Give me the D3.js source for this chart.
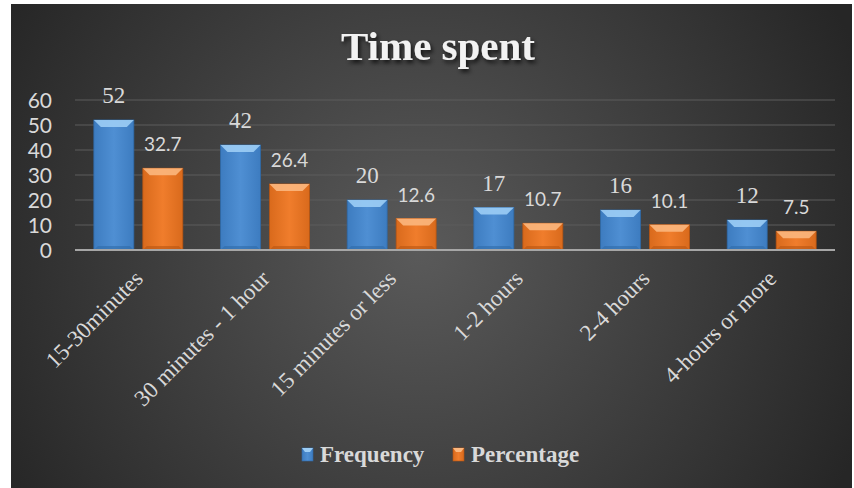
<!DOCTYPE html>
<html>
<head>
<meta charset="utf-8">
<script src="https://cdn.jsdelivr.net/npm/d3@7"></script>
<style>
  body { margin: 0; background: #fff; }
  svg { display: block; }
</style>
</head>
<body>
<svg id="chart" width="854" height="488"></svg>
<script>
var categories = ['15-30minutes', '30 minutes - 1 hour', '15 minutes or less', '1-2 hours', '2-4 hours', '4-hours or more'];
var seriesNames = ['Frequency', 'Percentage'];
var frequency = [52, 42, 20, 17, 16, 12];
var percentage = [32.7, 26.4, 12.6, 10.7, 10.1, 7.5];
var yTicks = [0, 10, 20, 30, 40, 50, 60];

var svg = d3.select('#chart');
var defs = svg.append('defs');

// background panel
var bg = defs.append('radialGradient').attr('id', 'bg')
  .attr('gradientUnits', 'userSpaceOnUse')
  .attr('cx', 420).attr('cy', 250).attr('r', 480);
bg.append('stop').attr('offset', '0').attr('stop-color', '#5a5a5a');
bg.append('stop').attr('offset', '1').attr('stop-color', '#262626');

svg.append('rect')
  .attr('x', 11).attr('y', 4)
  .attr('width', 841).attr('height', 484)
  .attr('fill', 'url(#bg)');

var colors = {
  Frequency: { main: '#4f8fd3', light: '#9ccdf5', dark: '#2f6aa8', edge: '#3d7cc0' },
  Percentage: { main: '#f07d2c', light: '#fbb77e', dark: '#b85512', edge: '#d96a1c' }
};

seriesNames.forEach(function(s) {
  var g = defs.append('linearGradient').attr('id', 'grad-' + s)
    .attr('x1', 0).attr('x2', 1).attr('y1', 0).attr('y2', 0);
  g.append('stop').attr('offset', '0').attr('stop-color', colors[s].edge);
  g.append('stop').attr('offset', '0.5').attr('stop-color', colors[s].main);
  g.append('stop').attr('offset', '1').attr('stop-color', colors[s].edge);
});

var shadow = defs.append('filter').attr('id', 'shadow')
  .attr('x', '-20%').attr('y', '-20%').attr('width', '140%').attr('height', '140%');
shadow.append('feDropShadow')
  .attr('dx', 2).attr('dy', 3).attr('stdDeviation', 2)
  .attr('flood-color', '#000').attr('flood-opacity', 0.7);

var margin = { left: 75, right: 835, top: 100, bottom: 250 };

var x0 = d3.scaleBand().domain(categories).range([margin.left, margin.right]).padding(0);
var x1 = d3.scaleBand().domain(seriesNames).range([0, x0.bandwidth()])
  .paddingInner(0.184).paddingOuter(0.385);
var y = d3.scaleLinear().domain([0, 60]).range([margin.bottom, margin.top]);

// grid lines
svg.append('g').selectAll('line')
  .data(yTicks.filter(function(d) { return d > 0; }))
  .enter().append('line')
  .attr('x1', margin.left).attr('x2', margin.right)
  .attr('y1', function(d) { return y(d); })
  .attr('y2', function(d) { return y(d); })
  .attr('stroke', '#5c5c5c')
  .attr('stroke-width', 1.2);

// y axis labels
var yAxis = d3.axisLeft(y).tickValues(yTicks).tickSize(0).tickPadding(0);
var ya = svg.append('g').attr('transform', 'translate(52,0)').call(yAxis);
ya.select('.domain').remove();
ya.selectAll('text')
  .attr('fill', '#d9d9d9')
  .attr('font-family', 'Lato, "Open Sans", sans-serif')
  .attr('font-size', 21)
  .attr('dy', '0.36em');

// bars
var rows = categories.map(function(c, i) {
  return { cat: c, values: [
    { key: 'Frequency', value: frequency[i] },
    { key: 'Percentage', value: percentage[i] }
  ] };
});

var groups = svg.append('g').selectAll('g')
  .data(rows).enter().append('g')
  .attr('transform', function(d) { return 'translate(' + x0(d.cat) + ',0)'; });

var bars = groups.selectAll('g.bar')
  .data(function(d) { return d.values; })
  .enter().append('g').attr('class', 'bar');

var bevel = 7;

bars.append('rect')
  .attr('x', function(d) { return x1(d.key); })
  .attr('y', function(d) { return y(d.value); })
  .attr('width', x1.bandwidth())
  .attr('height', function(d) { return y(0) - y(d.value); })
  .attr('fill', function(d) { return 'url(#grad-' + d.key + ')'; })
  .attr('stroke', function(d) { return colors[d.key].dark; })
  .attr('stroke-width', 0.8);

// top bevel
bars.append('polygon')
  .attr('points', function(d) {
    var xl = x1(d.key), xr = xl + x1.bandwidth(), yt = y(d.value);
    return [[xl, yt], [xr, yt], [xr - bevel, yt + bevel], [xl + bevel, yt + bevel]].join(' ');
  })
  .attr('fill', function(d) { return colors[d.key].light; })
  .attr('opacity', 0.9);

// bottom bevel
bars.append('polygon')
  .attr('points', function(d) {
    var xl = x1(d.key), xr = xl + x1.bandwidth(), yb = y(0);
    return [[xl, yb], [xr, yb], [xr - 4, yb - 4], [xl + 4, yb - 4]].join(' ');
  })
  .attr('fill', function(d) { return colors[d.key].dark; })
  .attr('opacity', 0.6);

// value labels
bars.append('text')
  .attr('x', function(d) { return x1(d.key) + x1.bandwidth() / 2; })
  .attr('y', function(d) { return y(d.value) - 17; })
  .attr('text-anchor', 'middle')
  .attr('fill', '#d9d9d9')
  .attr('font-family', function(d) {
    return d.key === 'Frequency' ? '"Liberation Serif", "Times New Roman", serif' : 'Lato, "Open Sans", sans-serif';
  })
  .attr('font-size', function(d) { return d.key === 'Frequency' ? 23 : 19; })
  .text(function(d) { return d.value; });

// x axis line
svg.append('line')
  .attr('x1', margin.left).attr('x2', margin.right)
  .attr('y1', y(0)).attr('y2', y(0))
  .attr('stroke', '#a6a6a6')
  .attr('stroke-width', 2);

// category labels
svg.append('g').selectAll('text')
  .data(categories).enter().append('text')
  .attr('transform', function(d) {
    var cx = x0(d) + x0.bandwidth() / 2 + 6;
    return 'translate(' + cx + ',280) rotate(-45)';
  })
  .attr('text-anchor', 'end')
  .attr('fill', '#d9d9d9')
  .attr('font-family', '"Liberation Serif", "Times New Roman", serif')
  .attr('font-size', 23)
  .text(function(d) { return d; });

// title
svg.append('text')
  .attr('x', 438).attr('y', 60)
  .attr('text-anchor', 'middle')
  .attr('fill', '#f2f2f2')
  .attr('font-family', '"Liberation Serif", "Times New Roman", serif')
  .attr('font-weight', 'bold')
  .attr('font-size', 41)
  .attr('filter', 'url(#shadow)')
  .text('Time spent');

// legend
var legendX = [302, 453];
var legend = svg.append('g').selectAll('g')
  .data(seriesNames).enter().append('g')
  .attr('transform', function(d, i) { return 'translate(' + legendX[i] + ',448)'; });

legend.append('rect')
  .attr('width', 11).attr('height', 13)
  .attr('fill', function(d) { return 'url(#grad-' + d + ')'; })
  .attr('stroke', function(d) { return colors[d].dark; })
  .attr('stroke-width', 0.6);
legend.append('polygon')
  .attr('points', '0,0 11,0 8,4 3,4')
  .attr('fill', function(d) { return colors[d].light; });

legend.append('text')
  .attr('x', 18).attr('y', 14)
  .attr('fill', '#d9d9d9')
  .attr('font-family', '"Liberation Serif", "Times New Roman", serif')
  .attr('font-weight', 'bold')
  .attr('font-size', 23)
  .text(function(d) { return d; });
</script>
</body>
</html>
